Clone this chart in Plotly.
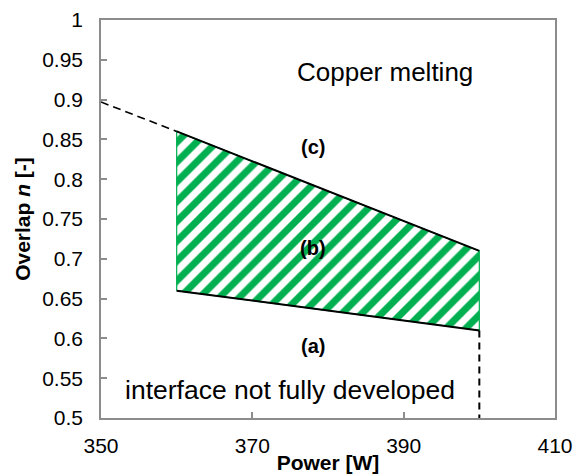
import plotly.graph_objects as go

# Data
power_bounds = [360, 400]
overlap_upper = [0.86, 0.71]     # boundary (b)/(c)
overlap_lower = [0.66, 0.61]     # boundary (a)/(b)
ext_power = [350, 360]
ext_overlap = [0.897, 0.86]
vert_power = [400, 400]
vert_overlap = [0.61, 0.5]

label_texts = ["(c)", "(b)", "(a)"]
label_x = [378, 378, 378]
label_y = [0.840, 0.714, 0.590]

x_ticks = [350, 370, 390, 410]
y_ticks = [0.5, 0.55, 0.6, 0.65, 0.7, 0.75, 0.8, 0.85, 0.9, 0.95, 1]
y_tick_text = ["0.5", "0.55", "0.6", "0.65", "0.7", "0.75", "0.8", "0.85", "0.9", "0.95", "1"]

GREEN = "#00B050"
FONT = "Liberation Sans, Arial, sans-serif"

fig = go.Figure()

# hatched region
poly_x = [power_bounds[0], power_bounds[0], power_bounds[1], power_bounds[1], power_bounds[0]]
poly_y = [overlap_lower[0], overlap_upper[0], overlap_upper[1], overlap_lower[1], overlap_lower[0]]
fig.add_trace(go.Scatter(
    x=poly_x, y=poly_y, mode="lines", fill="toself",
    line=dict(color=GREEN, width=1.2),
    fillcolor="white",
    fillpattern=dict(shape="/", size=14, solidity=0.5, fgcolor=GREEN, bgcolor="white", fgopacity=1),
    hoverinfo="skip", showlegend=False,
))
# upper and lower black boundaries
fig.add_trace(go.Scatter(x=power_bounds, y=overlap_upper, mode="lines",
                         line=dict(color="black", width=2), showlegend=False))
fig.add_trace(go.Scatter(x=power_bounds, y=overlap_lower, mode="lines",
                         line=dict(color="black", width=2), showlegend=False))
# dashed extensions
fig.add_trace(go.Scatter(x=ext_power, y=ext_overlap, mode="lines",
                         line=dict(color="black", width=1.6, dash="8px,5px"), showlegend=False))
fig.add_trace(go.Scatter(x=vert_power, y=vert_overlap, mode="lines",
                         line=dict(color="black", width=2, dash="7px,5px"), showlegend=False))

# region labels
for t, x, y in zip(label_texts, label_x, label_y):
    fig.add_annotation(x=x, y=y, text=f"<b>{t}</b>", showarrow=False,
                       font=dict(family=FONT, size=20, color="black"))

fig.add_annotation(x=387.5, y=0.935, text="Copper melting", showarrow=False,
                   font=dict(family=FONT, size=26, color="black"))
fig.add_annotation(x=375, y=0.535, text="interface not fully developed", showarrow=False,
                   font=dict(family=FONT, size=26.5, color="black"))

axis_common = dict(
    showgrid=False, zeroline=False, automargin=False,
    showline=True, linecolor="#8c8c8c", linewidth=1.5, mirror=True,
    ticks="inside", ticklen=6, tickwidth=1.5, tickcolor="#8c8c8c",
    tickfont=dict(family=FONT, size=21, color="black"),
)

fig.update_xaxes(range=[350, 410], tickvals=x_ticks,
                 title=dict(text="<b>Power [W]</b>", font=dict(family=FONT, size=21, color="black"), standoff=2),
                 ticklabelstandoff=8, **axis_common)
fig.update_yaxes(range=[0.5, 1], tickvals=y_ticks, ticktext=y_tick_text,
                 title=dict(text="<b>Overlap <i>n</i> [-]</b>", font=dict(family=FONT, size=21, color="black"), standoff=6),
                 ticklabelstandoff=12, **axis_common)

fig.update_layout(
    width=574, height=474,
    margin=dict(l=101, r=19, t=20, b=56, autoexpand=False),
    paper_bgcolor="white", plot_bgcolor="white",
    showlegend=False,
)

fig.write_html("out.html")
